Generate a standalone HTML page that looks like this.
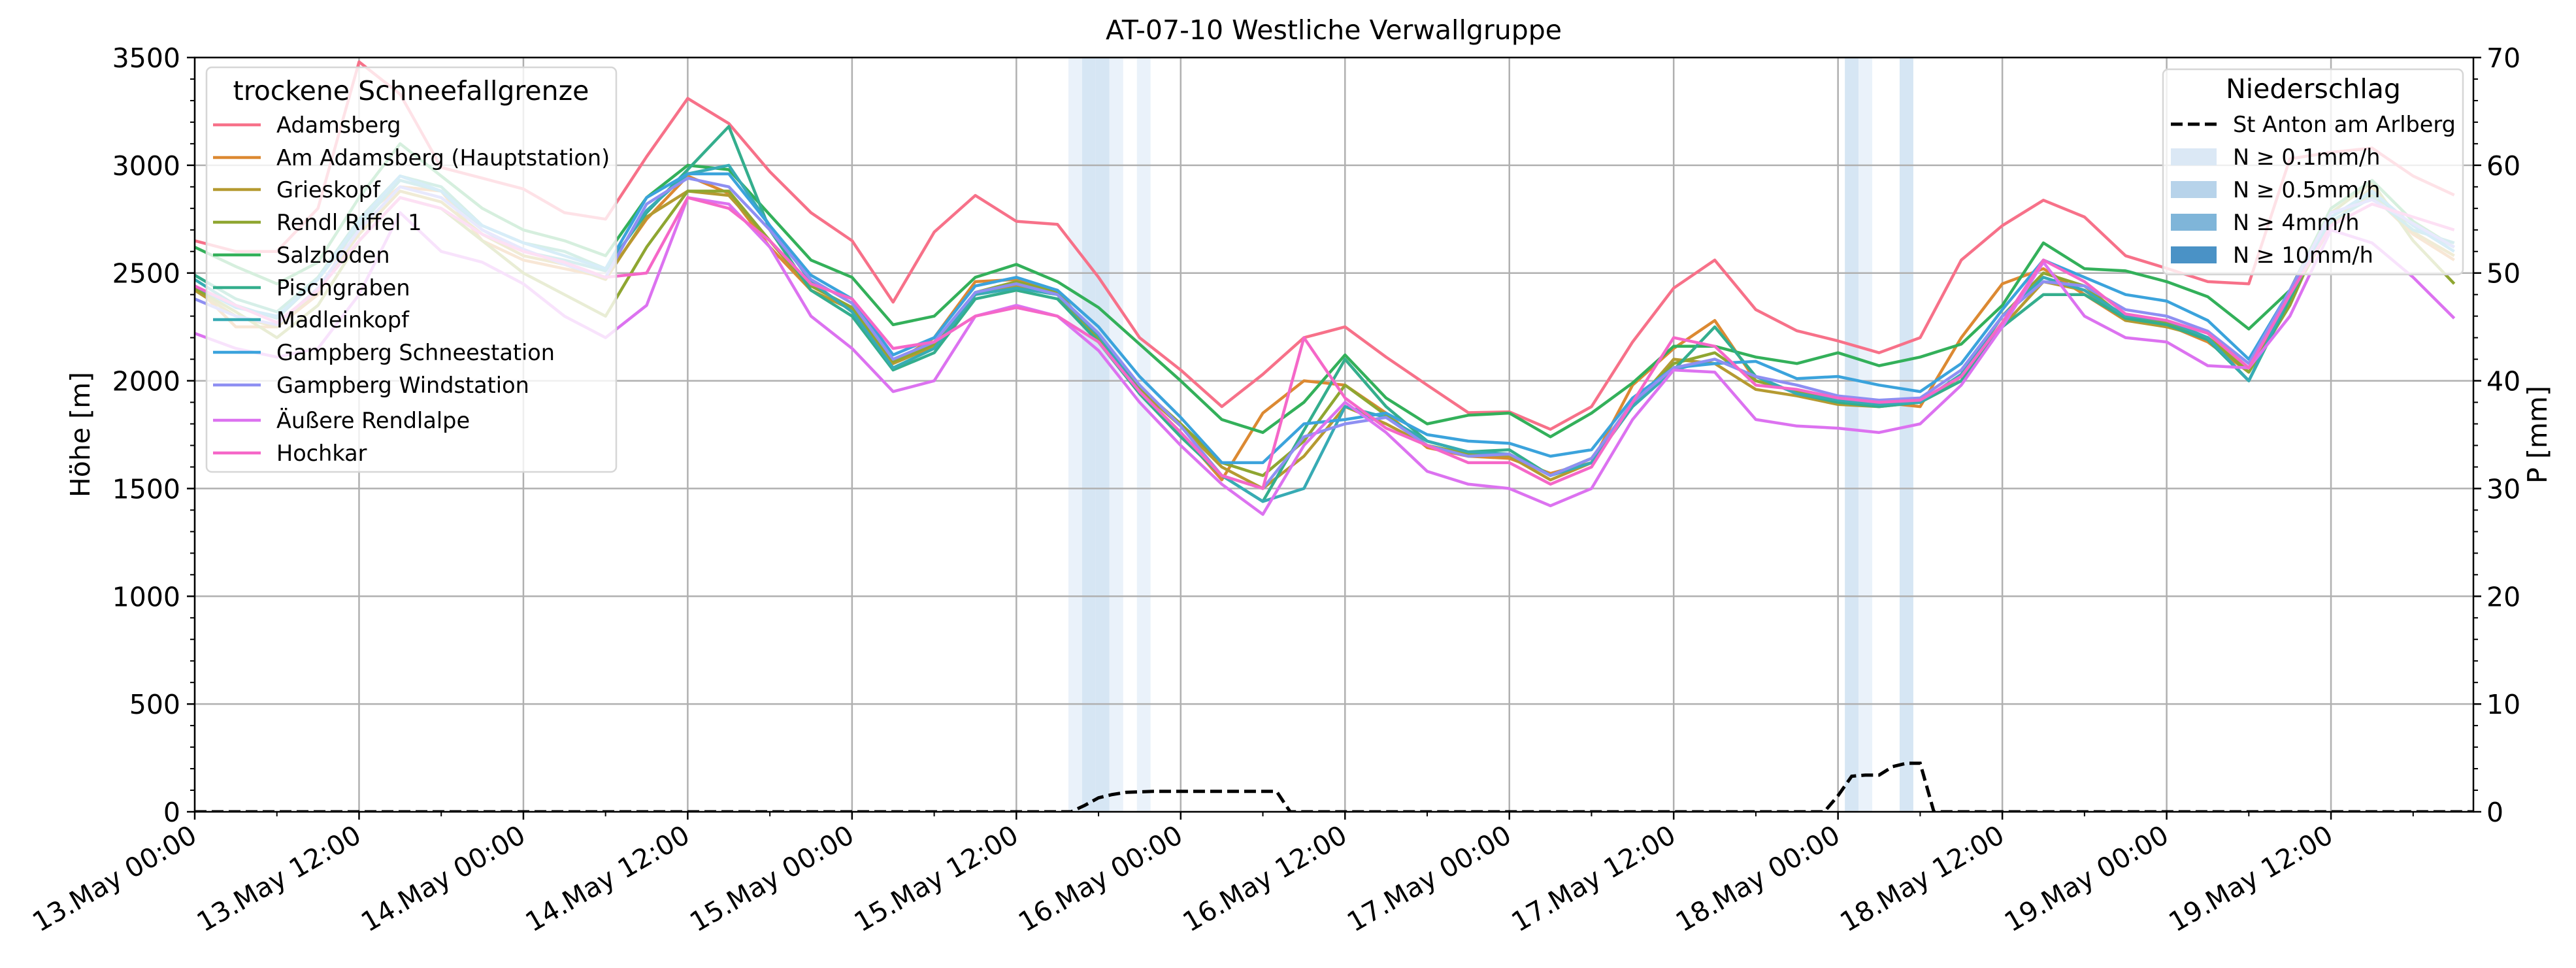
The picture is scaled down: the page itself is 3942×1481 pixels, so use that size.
<!DOCTYPE html>
<html><head><meta charset="utf-8">
<style>
html,body{margin:0;padding:0;background:#fff;}
svg{display:block;font-family:"DejaVu Sans","Liberation Sans",sans-serif;}
</style></head>
<body>
<svg id="chart" width="3942" height="1481" viewBox="0 0 3942 1481" xmlns="http://www.w3.org/2000/svg">
<rect x="0" y="0" width="3942" height="1481" fill="#fff"/>
<defs><clipPath id="plotclip"><rect x="298" y="88" width="3487" height="1154"/></clipPath></defs>
<g id="bands" clip-path="url(#plotclip)"></g>
<g id="grid"></g>
<g id="series" clip-path="url(#plotclip)"></g>
<g id="axes"></g>
<g id="legends"></g>
<text x="2041" y="60" text-anchor="middle" font-size="41">AT-07-10 Westliche Verwallgruppe</text>
<text x="0" y="0" transform="translate(137,665) rotate(-90)" text-anchor="middle" font-size="41">Höhe [m]</text>
<text x="0" y="0" transform="translate(3897,665) rotate(-90)" text-anchor="middle" font-size="41">P [mm]</text>
</svg>
<script>
// ---- data (3-hourly, starting 13.May 00:00) ----
const stepHours = 3;
const seriesNames = ["Adamsberg","Am Adamsberg (Hauptstation)","Grieskopf","Rendl Riffel 1","Salzboden","Pischgraben","Madleinkopf","Gampberg Schneestation","Gampberg Windstation","Äußere Rendlalpe","Hochkar"];
const seriesColors = ["#f77189","#dc8932","#b59a31","#8fa631","#33b05a","#34ae8d","#37abb4","#3ba3dc","#8e8ff2","#dc72f0","#f567c8"];
const adamsberg = [2650,2600,2600,2800,3480,3330,2990,2940,2890,2780,2750,3040,3310,3194,2970,2780,2650,2365,2690,2860,2740,2726,2480,2200,2050,1880,2030,2200,2250,2110,1980,1852,1856,1775,1880,2180,2430,2560,2330,2232,2185,2130,2200,2560,2720,2838,2760,2580,2522,2460,2450,3030,3060,3080,2950,2862];
const amAdamsberg = [2440,2250,2250,2400,2750,2900,2880,2650,2560,2520,2480,2750,2950,2870,2620,2420,2330,2080,2200,2460,2470,2420,2180,1950,1760,1540,1850,2000,1980,1850,1690,1650,1640,1570,1620,1980,2150,2280,2000,1950,1910,1900,1880,2200,2450,2520,2400,2280,2260,2180,2040,2380,2730,2860,2680,2560];
const grieskopf = [2420,2300,2250,2420,2680,2880,2830,2680,2580,2540,2470,2760,2880,2860,2650,2420,2330,2080,2160,2400,2440,2400,2190,1960,1790,1600,1500,1650,1880,1800,1700,1660,1650,1540,1620,1880,2100,2080,1960,1930,1890,1880,1900,2000,2250,2460,2420,2280,2250,2200,2060,2380,2720,2900,2690,2580];
const rendlRiffel = [2430,2320,2200,2350,2650,2850,2800,2650,2500,2400,2300,2620,2880,2880,2650,2440,2340,2090,2170,2410,2460,2410,2200,1970,1800,1620,1560,1720,1980,1840,1700,1660,1660,1560,1640,1900,2080,2130,2000,1950,1910,1890,1900,2020,2300,2500,2440,2290,2270,2200,2040,2350,2780,2920,2650,2450];
const salzboden = [2620,2530,2450,2550,2850,3100,2950,2800,2700,2650,2580,2850,3000,2980,2770,2560,2480,2260,2300,2480,2540,2460,2340,2170,2000,1820,1760,1900,2120,1920,1800,1840,1850,1740,1850,1990,2160,2160,2110,2080,2130,2070,2110,2170,2350,2640,2520,2510,2460,2390,2240,2420,2800,2930,2740,2620];
const pischgraben = [2490,2380,2320,2480,2750,2950,2900,2720,2640,2600,2520,2780,2980,3180,2700,2420,2300,2050,2130,2380,2420,2380,2180,1940,1740,1560,1440,1770,2100,1880,1720,1670,1680,1560,1640,1880,2050,2250,2020,1940,1900,1880,1900,2000,2250,2400,2400,2290,2260,2190,2000,2380,2760,2870,2720,2620];
const madleinkopf = [2470,2350,2290,2470,2720,2930,2880,2700,2600,2560,2510,2790,2960,3000,2720,2460,2320,2060,2150,2400,2430,2400,2210,1950,1760,1560,1440,1500,1880,1830,1720,1670,1660,1560,1620,1880,2050,2100,2020,1940,1910,1890,1900,2030,2300,2480,2420,2300,2280,2200,2000,2400,2740,2850,2700,2640];
const gampbergSchnee = [2440,2340,2300,2470,2740,2950,2880,2720,2640,2580,2520,2850,2960,2960,2720,2490,2380,2120,2200,2440,2480,2420,2250,2020,1830,1620,1620,1800,1820,1850,1750,1720,1710,1650,1680,1920,2060,2080,2090,2010,2020,1980,1950,2080,2330,2560,2480,2400,2370,2280,2100,2420,2760,2880,2720,2600];
const gampbergWind = [2380,2300,2260,2430,2700,2900,2850,2700,2610,2540,2480,2820,2940,2900,2700,2470,2360,2100,2180,2410,2450,2400,2220,1980,1790,1560,1500,1740,1800,1830,1700,1650,1660,1560,1640,1900,2060,2100,2020,1980,1930,1910,1920,2050,2300,2460,2440,2330,2300,2230,2080,2420,2780,2840,2730,2620];
const aeussereRendlalpe = [2220,2150,2110,2150,2400,2780,2600,2550,2450,2300,2200,2350,2850,2820,2620,2300,2150,1950,2000,2300,2350,2300,2140,1900,1700,1520,1380,1700,1900,1760,1580,1520,1500,1420,1500,1820,2050,2040,1820,1790,1780,1760,1800,1980,2250,2550,2300,2200,2180,2070,2060,2300,2700,2640,2480,2290];
const hochkar = [2440,2350,2270,2420,2650,2850,2800,2680,2600,2550,2480,2500,2850,2800,2650,2450,2380,2150,2180,2300,2340,2300,2180,1950,1760,1560,1500,2200,1920,1780,1700,1620,1620,1520,1600,1900,2200,2160,1980,1960,1920,1900,1910,2020,2270,2560,2460,2310,2280,2220,2060,2400,2720,2820,2760,2700];
const allSeries = [adamsberg,amAdamsberg,grieskopf,rendlRiffel,salzboden,pischgraben,madleinkopf,gampbergSchnee,gampbergWind,aeussereRendlalpe,hochkar];
// precipitation St Anton (mm), hours since start
const precipHours = [0,64,65,66,67,68,70,79,80,119,120,121,122,123,124,125,126,127,166.4];
const precipValues = [0,0,0.6,1.3,1.6,1.8,1.9,1.9,0,0,1.5,3.3,3.4,3.4,4.2,4.5,4.5,0,0];
// precipitation intensity bands: start hour and level (0 = light, 1 = >=0.1mm/h)
const bandStarts = [63.8,64.8,65.8,66.8,68.8,120.5,121.5,124.5];
const bandLevels = [0,1,1,0,0,1,0,1];
const yTicks = [0,500,1000,1500,2000,2500,3000,3500];
const y2Ticks = [0,10,20,30,40,50,60,70];
const xTickLabels = ["13.May 00:00","13.May 12:00","14.May 00:00","14.May 12:00","15.May 00:00","15.May 12:00","16.May 00:00","16.May 12:00","17.May 00:00","17.May 12:00","18.May 00:00","18.May 12:00","19.May 00:00","19.May 12:00"];

// ---- axes ----
const X0=298, X1=3785, Y0=1242, Y1=88, HMAX=166.4;
const NS="http://www.w3.org/2000/svg";
const xs = h => X0 + h*(X1-X0)/HMAX;
const yL = m => Y0 - m*(Y0-Y1)/3500;
const yR = p => Y0 - p*(Y0-Y1)/70;
function el(tag, attrs, parent){const e=document.createElementNS(NS,tag);for(const k in attrs)e.setAttribute(k,attrs[k]);parent.appendChild(e);return e;}

const bandsG=document.getElementById('bands');
const bandColors=["#eaf2fa","#d6e6f4"];
bandStarts.forEach((b,i)=>{
  const r=el('rect',{x:xs(b),y:Y1,width:xs(b+1)-xs(b),height:Y0-Y1,fill:bandColors[bandLevels[i]]},bandsG);
  
  
});

const gridG=document.getElementById('grid');
xTickLabels.forEach((l,i)=>{
  const ln=el('line',{x1:xs(i*12),x2:xs(i*12),y1:Y1,y2:Y0,stroke:"#b0b0b0","stroke-width":2.5},gridG);
  
  
});
yTicks.forEach(t=>{
  const ln=el('line',{x1:X0,x2:X1,y1:yL(t),y2:yL(t),stroke:"#b0b0b0","stroke-width":2.5},gridG);
  
  
});

const serG=document.getElementById('series');
allSeries.forEach((arr,si)=>{
  const pts=arr.map((v,i)=>xs(i*stepHours).toFixed(1)+','+yL(v).toFixed(1)).join(' ');
  const pl=el('polyline',{points:pts,fill:"none",stroke:seriesColors[si],"stroke-width":4.5,"stroke-linejoin":"round"},serG);
  
  
});
const pp=precipHours.map((h,i)=>xs(h).toFixed(1)+','+yR(precipValues[i]).toFixed(1)).join(' ');
const pline=el('polyline',{points:pp,fill:"none",stroke:"#000","stroke-width":5,"stroke-dasharray":"18,8"},serG);



const axG=document.getElementById('axes');
const frame=el('rect',{x:X0,y:Y1,width:X1-X0,height:Y0-Y1,fill:"none",stroke:"#000","stroke-width":2.5},axG);


for(let m=0;m<=3500;m+=100){
  const major=m%500===0;
  el('line',{x1:X0,x2:X0-(major?12:7),y1:yL(m),y2:yL(m),stroke:"#000","stroke-width":major?2.5:2},axG);
}
for(let p=0;p<=70;p+=2){
  const major=p%10===0;
  el('line',{x1:X1,x2:X1+(major?12:7),y1:yR(p),y2:yR(p),stroke:"#000","stroke-width":major?2.5:2},axG);
}
for(let h=0;h<=HMAX;h+=6){
  const major=h%12===0;
  el('line',{x1:xs(h),x2:xs(h),y1:Y0,y2:Y0+(major?12:7),stroke:"#000","stroke-width":major?2.5:2},axG);
}
yTicks.forEach(t=>{
  const tx=el('text',{x:X0-22,y:yL(t)+15,"text-anchor":"end","font-size":41},axG);
  tx.textContent=t;
  
  
});
y2Ticks.forEach(t=>{
  const tx=el('text',{x:X1+20,y:yR(t)+15,"text-anchor":"start","font-size":41},axG);
  tx.textContent=t;
  
  
});
xTickLabels.forEach((l,i)=>{
  const x=xs(i*12)+6, y=Y0+44;
  const tx=el('text',{x:x,y:y,"text-anchor":"end","font-size":41,transform:`rotate(-30 ${x} ${y})`},axG);
  tx.textContent=l;
  
  
});

// ---- legends ----
const lg=document.getElementById('legends');
const box1=el('rect',{x:316,y:103,width:627,height:619,rx:8,fill:"#fff","fill-opacity":0.8,stroke:"#d6d6d6","stroke-width":2.5},lg);


const t1=el('text',{x:629,y:153,"text-anchor":"middle","font-size":41},lg);
t1.textContent="trockene Schneefallgrenze";


const entryY=[191,241,290,340,390,440,489,539,589,643,693];
seriesNames.forEach((n,i)=>{
  const g=el('g',{},lg);
  
  
  el('line',{x1:326,x2:399,y1:entryY[i],y2:entryY[i],stroke:seriesColors[i],"stroke-width":4.5},g);
  const tx=el('text',{x:423,y:entryY[i]+12,"font-size":33.5},g);
  tx.textContent=n;
});
const box2=el('rect',{x:3310,y:106,width:459,height:314,rx:8,fill:"#fff","fill-opacity":0.8,stroke:"#d6d6d6","stroke-width":2.5},lg);


const t2=el('text',{x:3540,y:150,"text-anchor":"middle","font-size":41},lg);
t2.textContent="Niederschlag";


const g0=el('g',{},lg);


el('line',{x1:3322,x2:3392,y1:190,y2:190,stroke:"#000","stroke-width":5,"stroke-dasharray":"18,8"},g0);
const tt=el('text',{x:3417,y:202,"font-size":33.5},g0);tt.textContent="St Anton am Arlberg";
const patchLabels=["N ≥ 0.1mm/h","N ≥ 0.5mm/h","N ≥ 4mm/h","N ≥ 10mm/h"];
const patchColors=["#dbe8f5","#b7d3ea","#7fb5d9","#4a92c6"];
patchLabels.forEach((l,i)=>{
  const y=240+i*50;
  const g=el('g',{},lg);
  
  
  el('rect',{x:3322,y:y-13,width:70,height:26,fill:patchColors[i]},g);
  const tx=el('text',{x:3417,y:y+12,"font-size":33.5},g);tx.textContent=l;
});
</script>
</body></html>
